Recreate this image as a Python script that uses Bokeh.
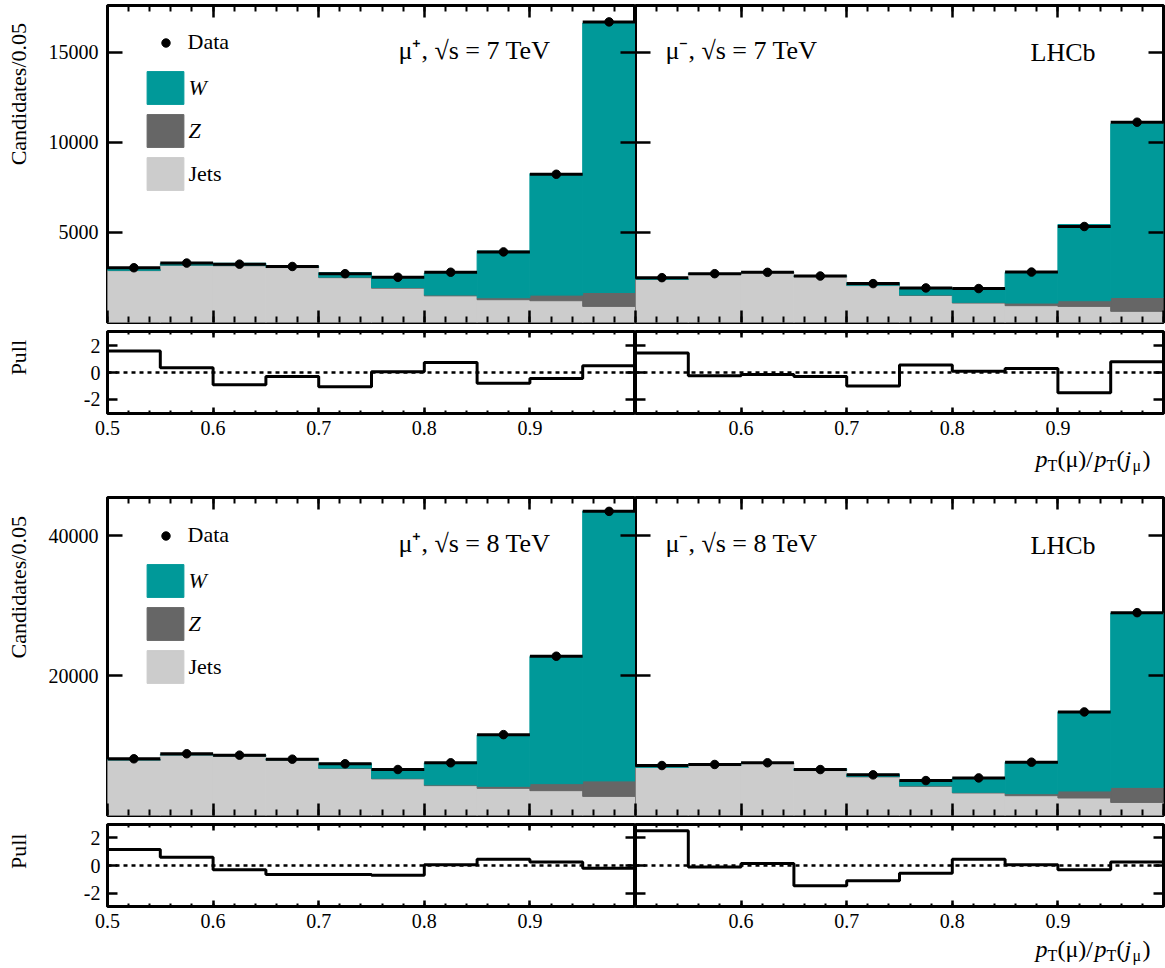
import numpy as np
from math import pi
from bokeh.plotting import figure
from bokeh.models import (Range1d, LinearAxis, FixedTicker, SingleIntervalTicker,
                          Label, Legend, LegendItem, Span, Spacer)
from bokeh.layouts import column, row
from bokeh.embed import file_html
from bokeh.resources import INLINE

# ---------------- data ----------------
edges = [0.50, 0.55, 0.60, 0.65, 0.70, 0.75, 0.80, 0.85, 0.90, 0.95, 1.00]

# mu+, 7 TeV
data_p7 = [3040, 3300, 3240, 3110, 2710, 2510, 2790, 3920, 8230, 16690]
jets_p7 = [2880, 3170, 3150, 3050, 2490, 1905, 1480, 1265, 1210, 895]
z_p7 = [20, 20, 25, 25, 30, 40, 50, 110, 310, 770]
w_p7 = [50, 90, 115, 50, 245, 560, 1220, 2595, 6750, 14960]
pull_p7 = [1.6, 0.35, -0.9, -0.3, -1.05, 0.05, 0.75, -0.8, -0.45, 0.5]

# mu-, 7 TeV
data_m7 = [2490, 2710, 2785, 2580, 2160, 1920, 1885, 2800, 5330, 11120]
jets_m7 = [2390, 2670, 2765, 2545, 2050, 1500, 1080, 935, 895, 620]
z_m7 = [15, 20, 20, 20, 25, 30, 40, 145, 315, 770]
w_m7 = [13, 33, 8, 30, 131, 366, 761, 1704, 4230, 9646]
pull_m7 = [1.45, -0.25, -0.15, -0.3, -1.0, 0.55, 0.1, 0.3, -1.5, 0.8]

# mu+, 8 TeV
data_p8 = [8115, 8835, 8635, 8060, 7400, 6580, 7540, 11570, 22790, 43515]
jets_p8 = [7915, 8630, 8490, 7915, 6720, 5240, 4275, 3885, 3555, 2735]
z_p8 = [40, 50, 60, 60, 70, 90, 120, 290, 1005, 2215]
w_p8 = [56, 99, 113, 143, 666, 1307, 3141, 7347, 18192, 38607]
pull_p8 = [1.15, 0.6, -0.3, -0.65, -0.65, -0.7, 0.05, 0.45, 0.25, -0.2]

# mu-, 8 TeV
data_m8 = [7150, 7300, 7540, 6575, 5815, 4995, 5380, 7630, 14820, 29025]
jets_m8 = [6880, 7150, 7440, 6430, 5525, 4175, 3225, 2835, 2505, 1870]
z_m8 = [30, 40, 45, 50, 60, 80, 100, 290, 1005, 2160]
w_m8 = [29, 119, 42, 213, 314, 779, 2022, 4501, 11347, 24952]
pull_m8 = [2.5, -0.1, 0.15, -1.45, -1.1, -0.55, 0.45, 0.05, -0.3, 0.25]

ticks_7 = [5000, 10000, 15000]
ticks_8 = [20000, 40000]
pull_ticks = [-2, 0, 2]
pull_tick_labels = {-2: "-2", 0: "0", 2: "2"}

# ---------------- style ----------------
FONT = "Liberation Serif"
C_W = "#009999"
C_Z = "#666666"
C_J = "#cccccc"
LAB_W = 40        # column holding the rotated axis titles
LEFT_B = 67       # tick-label border of left panels
FRAME_W = 528
RIGHT_B = 2


def style_axis(ax, tick_in, minor_in, labels, standoff=7):
    ax.axis_line_color = None
    ax.major_tick_in = tick_in
    ax.major_tick_out = 0
    ax.minor_tick_in = minor_in
    ax.minor_tick_out = 0
    ax.major_tick_line_width = 2.5
    ax.minor_tick_line_width = 2
    ax.major_tick_line_color = "black"
    ax.minor_tick_line_color = "black" if minor_in > 0 else None
    if labels:
        ax.major_label_text_font = FONT
        ax.major_label_text_font_size = "20px"
        ax.major_label_text_font_style = "normal"
        ax.major_label_text_color = "black"
        ax.major_label_standoff = standoff
    else:
        ax.major_label_text_font_size = "0px"
        ax.major_label_text_color = None
        ax.major_label_standoff = 0


def base_fig(left, height, btop, bbot, ymin, ymax):
    width = LEFT_B + FRAME_W if left else FRAME_W + RIGHT_B
    p = figure(width=width, height=height, x_range=Range1d(0.5, 1.0),
               y_range=Range1d(ymin, ymax), output_backend="svg",
               toolbar_location=None, x_axis_location=None, y_axis_location=None,
               min_border_left=LEFT_B if left else 0,
               min_border_right=0 if left else RIGHT_B,
               min_border_top=btop, min_border_bottom=bbot)
    p.outline_line_color = "black"
    p.outline_line_width = 3
    p.xgrid.grid_line_color = None
    p.ygrid.grid_line_color = None
    p.background_fill_color = "white"
    p.border_fill_color = "white"
    return p


def text_fig(width, height):
    p = figure(width=width, height=height, x_range=Range1d(0, width),
               y_range=Range1d(0, height), output_backend="svg",
               toolbar_location=None, x_axis_location=None, y_axis_location=None,
               min_border=0)
    p.outline_line_color = None
    p.xgrid.grid_line_color = None
    p.ygrid.grid_line_color = None
    p.background_fill_color = "white"
    p.border_fill_color = "white"
    return p


def side_label(height, text, ytop):
    p = text_fig(LAB_W, height)
    p.add_layout(Label(x=18, y=height - ytop, text=text, angle=pi / 2,
                       text_align="right", text_baseline="middle",
                       text_font=FONT, text_font_size="22px", text_color="black"))
    return p


def title_fig(height, baseline):
    p = text_fig(FRAME_W + RIGHT_B, height)
    pieces = [("p", 24, "italic", 0, 12), ("T", 16, "normal", -7, 10),
              ("(\u03bc)/", 24, "normal", 0, 37), ("p", 24, "italic", 0, 12),
              ("T", 16, "normal", -7, 10), ("(", 24, "normal", 0, 8),
              ("j", 24, "italic", 0, 8), ("\u03bc", 16, "normal", -7, 10),
              (")", 24, "normal", 0, 8)]
    x = 400
    for txt, fs, st, dy, wd in pieces:
        p.add_layout(Label(x=x, y=baseline + dy, text=txt, text_font=FONT,
                           text_font_size=f"{fs}px", text_font_style=st,
                           text_baseline="alphabetic", text_align="left",
                           text_color="black"))
        x += wd
    return p


def main_panel(left, height, btop, bbot, ymax, yticks, jets, z, w, data,
               label, lhcb):
    p = base_fig(left, height, btop, bbot, 0, ymax)
    lo = edges[:-1]
    hi = edges[1:]
    j = np.array(jets, float)
    jz = j + np.array(z, float)
    tot = jz + np.array(w, float)
    rj = p.quad(left=lo, right=hi, bottom=0, top=j, fill_color=C_J, line_color=C_J, line_width=1)
    rz = p.quad(left=lo, right=hi, bottom=j, top=jz, fill_color=C_Z, line_color=C_Z, line_width=1)
    rw = p.quad(left=lo, right=hi, bottom=jz, top=tot, fill_color=C_W, line_color=C_W, line_width=1)
    centers = [(a + b) / 2 for a, b in zip(lo, hi)]
    p.segment(x0=lo, y0=data, x1=hi, y1=data, line_color="black", line_width=3)
    rd = p.scatter(x=centers, y=data, size=8.5, color="black")

    for loc in ("below", "above"):
        ax = LinearAxis(ticker=SingleIntervalTicker(interval=0.1, num_minor_ticks=5))
        style_axis(ax, 12, 6, False)
        p.add_layout(ax, loc)
    axl = LinearAxis(ticker=FixedTicker(ticks=yticks))
    style_axis(axl, 15, 0, left, standoff=9)
    p.add_layout(axl, "left")
    axr = LinearAxis(ticker=FixedTicker(ticks=yticks))
    style_axis(axr, 15, 0, False)
    p.add_layout(axr, "right")

    if left:
        # (label, renderer, style, x, y, glyph w, glyph h, standoff)
        items = [("Data", rd, "normal", 47.5, 267, 21, 21, 12),
                 ("W", rw, "italic", 34.5, 214, 46, 41, 1),
                 ("Z", rz, "italic", 34.5, 171, 46, 41, 1),
                 ("Jets", rj, "normal", 34.5, 128, 46, 41, 1)]
        for txt, r, st, xx, yy, gw, gh, so in items:
            lg = Legend(items=[LegendItem(label=txt, renderers=[r])],
                        location=(xx, yy), padding=0, margin=0,
                        glyph_width=gw, glyph_height=gh, label_standoff=so,
                        label_text_font=FONT, label_text_font_size="22px",
                        label_text_font_style=st, label_text_color="black",
                        background_fill_alpha=0, border_line_alpha=0)
            p.add_layout(lg)
        p.add_layout(Label(x=291, y=272, x_units="screen", y_units="screen",
                           text=label, text_font=FONT, text_font_size="26px",
                           text_baseline="middle", text_color="black"))
    else:
        p.add_layout(Label(x=30, y=272, x_units="screen", y_units="screen",
                           text=label, text_font=FONT, text_font_size="26px",
                           text_baseline="middle", text_color="black"))
        p.add_layout(Label(x=395, y=270, x_units="screen", y_units="screen",
                           text=lhcb, text_font=FONT, text_font_size="26px",
                           text_baseline="middle", text_color="black"))
    return p


def pull_panel(left, height, btop, bbot, pull, ymin, ymax):
    p = base_fig(left, height, btop, bbot, ymin, ymax)
    p.step(x=edges, y=list(pull) + [pull[-1]], mode="after", line_color="black", line_width=3)
    p.add_layout(Span(location=0, dimension="width", line_color="black",
                      line_dash="4 4", line_width=2.5))
    axb = LinearAxis(ticker=SingleIntervalTicker(interval=0.1, num_minor_ticks=5))
    style_axis(axb, 6, 3, True, standoff=7)
    if left:
        axb.major_label_overrides = {1.0: "", 1: ""}
    else:
        axb.major_label_overrides = {0.5: "", 1.0: "", 1: ""}
    p.add_layout(axb, "below")
    axa = LinearAxis(ticker=SingleIntervalTicker(interval=0.1, num_minor_ticks=5))
    style_axis(axa, 6, 3, False)
    p.add_layout(axa, "above")
    axl = LinearAxis(ticker=FixedTicker(ticks=pull_ticks))
    style_axis(axl, 10, 0, left, standoff=7)
    axl.major_label_overrides = pull_tick_labels
    p.add_layout(axl, "left")
    axr = LinearAxis(ticker=FixedTicker(ticks=pull_ticks))
    style_axis(axr, 10, 0, False)
    p.add_layout(axr, "right")
    return p


H_M1, H_P1, H_T1, H_M2, H_P2, H_T2 = 326, 117, 50, 326, 117, 30

m1 = main_panel(True, H_M1, 5, 4, 17600, ticks_7, jets_p7, z_p7, w_p7, data_p7,
                "\u03bc\u207a,  \u221as = 7 TeV", None)
m2 = main_panel(False, H_M1, 5, 4, 17600, ticks_7, jets_m7, z_m7, w_m7, data_m7,
                "\u03bc\u207b,  \u221as = 7 TeV", "LHCb")
p1 = pull_panel(True, H_P1, 5, 30, pull_p7, -3.04, 3.04)
p2 = pull_panel(False, H_P1, 5, 30, pull_m7, -3.04, 3.04)
m3 = main_panel(True, H_M2, 4, 4, 45500, ticks_8, jets_p8, z_p8, w_p8, data_p8,
                "\u03bc\u207a,  \u221as = 8 TeV", None)
m4 = main_panel(False, H_M2, 4, 4, 45500, ticks_8, jets_m8, z_m8, w_m8, data_m8,
                "\u03bc\u207b,  \u221as = 8 TeV", "LHCb")
p3 = pull_panel(True, H_P2, 5, 30, pull_p8, -2.95, 2.95)
p4 = pull_panel(False, H_P2, 5, 30, pull_m8, -2.95, 2.95)

l1 = side_label(H_M1, "Candidates/0.05", 18)
l2 = side_label(H_P1, "Pull", 12)
l3 = side_label(H_M2, "Candidates/0.05", 19)
l4 = side_label(H_P2, "Pull", 13)
t1 = title_fig(H_T1, 35)
t2 = title_fig(H_T2, 18)

LW = LAB_W + LEFT_B + FRAME_W
layout = column(row(l1, m1, m2), row(l2, p1, p2),
                row(Spacer(width=LW, height=H_T1), t1),
                row(l3, m3, m4), row(l4, p3, p4),
                row(Spacer(width=LW, height=H_T2), t2))
open("out.html", "w").write(file_html(layout, INLINE))
